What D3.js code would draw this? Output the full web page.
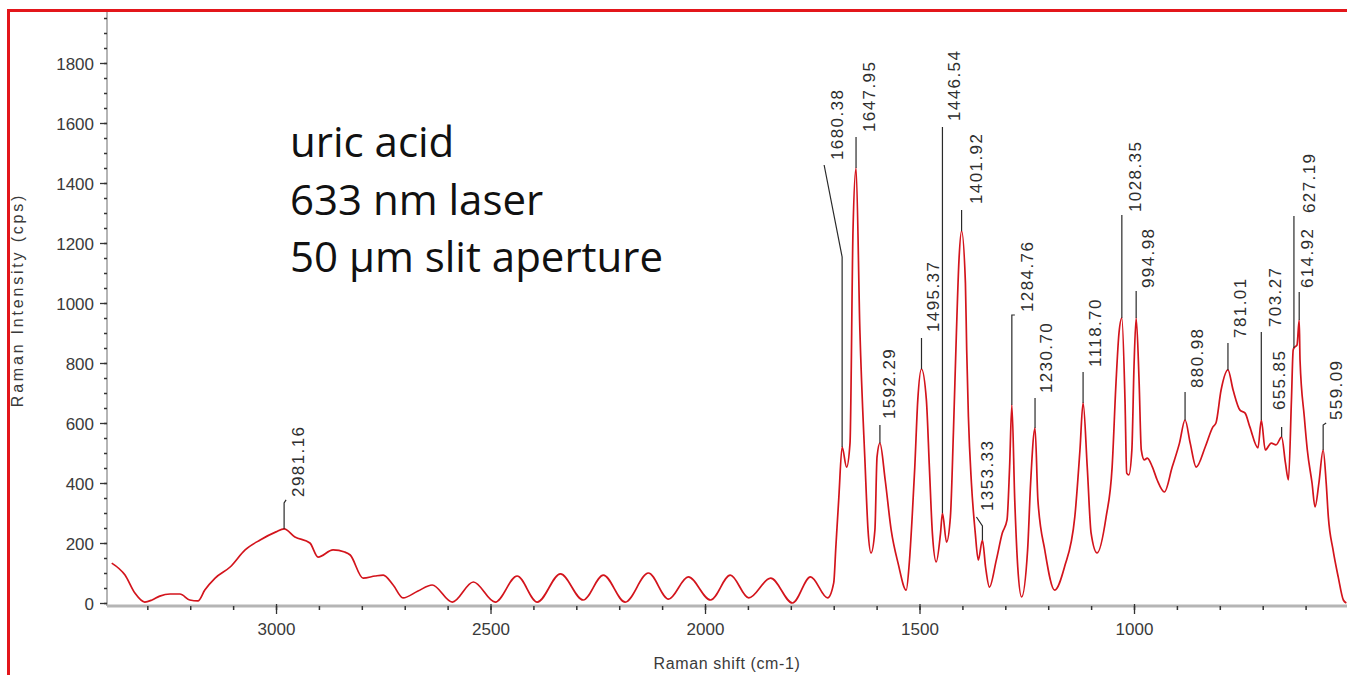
<!DOCTYPE html>
<html>
<head>
<meta charset="utf-8">
<script src="https://cdn.jsdelivr.net/npm/d3@7"></script>
<style>
  html, body { margin: 0; padding: 0; background: #fff; }
  svg { display: block; }
</style>
</head>
<body>
<svg id="chart" width="1347" height="675"></svg>
<script>
// Raman spectrum of uric acid: shift (cm-1) and intensity (cps)
const shifts = [
  3383, 3352, 3329, 3306, 3289, 3271, 3247, 3224, 3201, 3182,
  3166, 3142, 3107, 3072, 3037, 3000, 2981.16, 2956, 2921, 2902,
  2867, 2840, 2827, 2797, 2769, 2750, 2727, 2704, 2669, 2636,
  2589, 2540, 2489, 2438, 2391, 2337, 2284, 2237, 2186, 2132,
  2085, 2039, 1987, 1941, 1898, 1847, 1796, 1754, 1714, 1700,
  1695, 1688, 1680.38, 1670, 1662, 1655, 1647.95, 1639, 1627, 1620,
  1613, 1604, 1599, 1592.29, 1580, 1566, 1550, 1531, 1524, 1517,
  1511, 1504, 1495.37, 1484, 1477, 1470, 1461, 1451, 1446.54, 1437,
  1428, 1421, 1414, 1408, 1401.92, 1393, 1390, 1386, 1379, 1370,
  1363, 1353.33, 1346, 1337, 1321, 1307, 1296, 1290, 1284.76, 1278,
  1271, 1262, 1248, 1241, 1230.70, 1224, 1208, 1185, 1162, 1138,
  1126, 1118.70, 1109, 1100, 1086, 1065, 1051, 1042, 1035, 1028.35,
  1021, 1017, 1012, 1005, 1000, 994.98, 988, 983, 976, 969,
  957, 946, 929, 911, 894, 880.98, 869, 855, 834, 816,
  809, 797, 781.01, 769, 753, 741, 730, 711, 703.27, 694,
  680, 669, 655.85, 647, 640, 633, 629, 627.19, 620, 614.92,
  613, 603, 596, 585, 578, 569, 559.09, 552, 547, 536,
  524, 512, 505
];
const intensities = [
  133, 93, 33, 3, 10, 23, 30, 30, 10, 7,
  43, 83, 120, 177, 210, 237, 247, 220, 200, 153,
  177, 170, 160, 83, 90, 93, 60, 17, 40, 60,
  3, 70, 3, 90, 3, 97, 10, 93, 3, 100,
  13, 87, 10, 93, 17, 83, 0, 87, 17, 67,
  187, 353, 520, 453, 533, 1243, 1450, 910, 467, 243,
  167, 243, 487, 533, 410, 243, 133, 43, 130, 290,
  453, 677, 780, 677, 453, 233, 137, 233, 300, 203,
  287, 567, 900, 1143, 1240, 1067, 843, 620, 400, 233,
  143, 210, 120, 53, 143, 233, 277, 453, 660, 343,
  120, 20, 177, 400, 583, 343, 177, 43, 120, 287,
  510, 667, 453, 233, 167, 287, 453, 733, 900, 950,
  677, 433, 427, 510, 787, 950, 733, 510, 477, 483,
  453, 410, 370, 453, 533, 610, 533, 453, 520, 587,
  600, 710, 777, 710, 643, 633, 587, 517, 610, 510,
  533, 527, 553, 467, 410, 677, 843, 850, 860, 943,
  810, 620, 510, 400, 320, 400, 510, 400, 287, 177,
  87, 10, 0
];

// Labelled peak positions (cm-1)
const peakShifts = [2981.16, 1680.38, 1647.95, 1592.29, 1495.37, 1446.54, 1401.92,
  1353.33, 1284.76, 1230.70, 1118.70, 1028.35, 994.98, 880.98, 781.01, 703.27,
  655.85, 627.19, 614.92, 559.09];
const peakLabels = ["2981.16", "1680.38", "1647.95", "1592.29", "1495.37", "1446.54",
  "1401.92", "1353.33", "1284.76", "1230.70", "1118.70", "1028.35", "994.98", "880.98",
  "781.01", "703.27", "655.85", "627.19", "614.92", "559.09"];

// Axis tick values
const xMajorTicks = [3000, 2500, 2000, 1500, 1000];
const xMinorTicks = d3.range(3300, 500, -100);
const yMajorTicks = d3.range(0, 1801, 200);
const yMinorTicks = d3.range(0, 1951, 50);

// Annotation lines
const noteLines = ["uric acid", "633 nm laser", "50 \u03bcm slit aperture"];

// Leader geometry for each peak label (pixels): stem height, kink dx/dy, text offset
const leaders = [
  {stem: 26, kx: 2, ky: -3, tx: 12, gap: 3},
  {stem: 190, kx: -18, ky: -92, tx: 13, gap: 5},
  {stem: 31, kx: 0, ky: 0, tx: 13, gap: 5},
  {stem: 18, kx: 0, ky: 0, tx: 9, gap: 6},
  {stem: 31, kx: 0, ky: 0, tx: 12, gap: 6},
  {stem: 386, kx: 0, ky: 0, tx: 12, gap: 6},
  {stem: 21, kx: 0, ky: 0, tx: 14, gap: 6},
  {stem: 14, kx: -6, ky: -9, tx: 11, gap: 6},
  {stem: 90, kx: 3, ky: 0, tx: 12, gap: 3},
  {stem: 30, kx: 0, ky: 0, tx: 11, gap: 5},
  {stem: 31, kx: 0, ky: 0, tx: 12, gap: 5},
  {stem: 103, kx: 0, ky: 0, tx: 13, gap: 3},
  {stem: 27, kx: 0, ky: 0, tx: 12, gap: 3},
  {stem: 28, kx: 0, ky: 0, tx: 12, gap: 4},
  {stem: 27, kx: 0, ky: 0, tx: 12, gap: 5},
  {stem: 88, kx: 0, ky: 0, tx: 14, gap: 5},
  {stem: 10, kx: 0, ky: 0, tx: -3, gap: 17},
  {stem: 132, kx: 0, ky: 0, tx: 15, gap: 3},
  {stem: 28, kx: 0, ky: 0, tx: 8, gap: 4},
  {stem: 25, kx: 3, ky: -2, tx: 10, gap: 3}
];

const svg = d3.select("#chart");
const plot = {left: 107, right: 1348.5, top: 12, bottom: 606};

const x = d3.scaleLinear().domain([3394, 500]).range([plot.left, plot.right]);
const y = d3.scaleLinear().domain([-10, 1970]).range([plot.bottom, plot.top]);

// Frame
svg.append("line").attr("x1", 8.5).attr("x2", 8.5).attr("y1", 9).attr("y2", 675)
  .attr("stroke", "#e3161b").attr("stroke-width", 3);
svg.append("line").attr("x1", 7).attr("x2", 1347).attr("y1", 10.5).attr("y2", 10.5)
  .attr("stroke", "#e3161b").attr("stroke-width", 3);

// Clip region for the spectrum
svg.append("defs").append("clipPath").attr("id", "plotClip")
  .append("rect").attr("x", plot.left).attr("y", plot.top)
  .attr("width", 1347 - plot.left).attr("height", plot.bottom - plot.top);

const tickFont = "'Liberation Sans', Arial, sans-serif";
const intFormat = d3.format("d");

// Y axis
const yAxisG = svg.append("g").attr("transform", `translate(${plot.left},0)`);
yAxisG.append("line").attr("x1", 0).attr("x2", 0).attr("y1", plot.top).attr("y2", plot.bottom)
  .attr("stroke", "#b5b5b5").attr("stroke-width", 2);
const yMinor = yAxisG.append("g").call(d3.axisLeft(y).tickValues(yMinorTicks).tickSize(3).tickFormat(""));
yMinor.select(".domain").remove();
yMinor.selectAll(".tick line").attr("stroke", "#333").attr("stroke-width", 1.5);
const yMajor = yAxisG.append("g").call(d3.axisLeft(y).tickValues(yMajorTicks).tickSize(7)
  .tickPadding(6).tickFormat(intFormat));
yMajor.select(".domain").remove();
yMajor.selectAll(".tick line").attr("stroke", "#333").attr("stroke-width", 1.3);
yMajor.selectAll(".tick text").attr("font-family", tickFont).attr("font-size", 17)
  .attr("fill", "#3a3a3a").attr("dy", "0.36em");

// X axis
const xAxisG = svg.append("g").attr("transform", `translate(0,${plot.bottom})`);
xAxisG.append("line").attr("x1", plot.left).attr("x2", 1347).attr("y1", 0).attr("y2", 0)
  .attr("stroke", "#b5b5b5").attr("stroke-width", 3);
const xMinor = xAxisG.append("g").call(d3.axisBottom(x).tickValues(xMinorTicks).tickSize(4).tickFormat(""));
xMinor.select(".domain").remove();
xMinor.selectAll(".tick line").attr("stroke", "#333").attr("stroke-width", 1.5);
const xMajor = xAxisG.append("g").call(d3.axisBottom(x).tickValues(xMajorTicks).tickSize(8)
  .tickPadding(9).tickFormat(intFormat));
xMajor.select(".domain").remove();
xMajor.selectAll(".tick line").attr("stroke", "#333").attr("stroke-width", 1.3).attr("y1", -2);
xMajor.selectAll(".tick text").attr("font-family", tickFont).attr("font-size", 17)
  .attr("fill", "#3a3a3a");

// Axis titles
svg.append("text").attr("x", 727).attr("y", 669).attr("text-anchor", "middle")
  .attr("font-family", tickFont).attr("font-size", 16).attr("fill", "#3a3a3a")
  .attr("letter-spacing", 0.6)
  .text("Raman shift (cm-1)");
svg.append("text").attr("transform", "translate(23,300) rotate(-90)").attr("text-anchor", "middle")
  .attr("font-family", tickFont).attr("font-size", 16).attr("fill", "#3a3a3a")
  .attr("letter-spacing", 2.8)
  .text("Raman Intensity (cps)");

// Spectrum
const spectrum = shifts.map((s, i) => ({s, v: intensities[i]}));
const line = d3.line().curve(d3.curveMonotoneX).x(d => x(d.s)).y(d => y(d.v));
svg.append("path").datum(spectrum).attr("clip-path", "url(#plotClip)")
  .attr("d", line).attr("fill", "none").attr("stroke", "#d3141c")
  .attr("stroke-width", 1.7).attr("stroke-linejoin", "round");

// Peak labels with leader lines
const valueAt = s => intensities[shifts.indexOf(s)];
const labelG = svg.append("g");
peakShifts.forEach((s, i) => {
  const L = leaders[i];
  const px = x(s), py = y(valueAt(s));
  const topY = py - L.stem;
  const ex = px + L.kx, ey = topY + L.ky;
  labelG.append("path")
    .attr("d", `M${px},${py}V${topY}L${ex},${ey}`)
    .attr("fill", "none").attr("stroke", "#2a2a2a").attr("stroke-width", 1.2);
  labelG.append("text")
    .attr("transform", `translate(${ex + L.tx},${ey - L.gap}) rotate(-90)`)
    .attr("dy", "0.35em")
    .attr("font-family", tickFont).attr("font-size", 17)
    .attr("letter-spacing", 1.4).attr("fill", "#2e2e2e")
    .text(peakLabels[i]);
});

// Sample notes
svg.append("g").selectAll("text").data(noteLines).join("text")
  .attr("x", 290).attr("y", (d, i) => 157 + i * 57.5)
  .attr("font-family", "'Open Sans', 'Noto Sans', sans-serif")
  .attr("font-size", 42).attr("fill", "#111")
  .text(d => d);
</script>
</body>
</html>
